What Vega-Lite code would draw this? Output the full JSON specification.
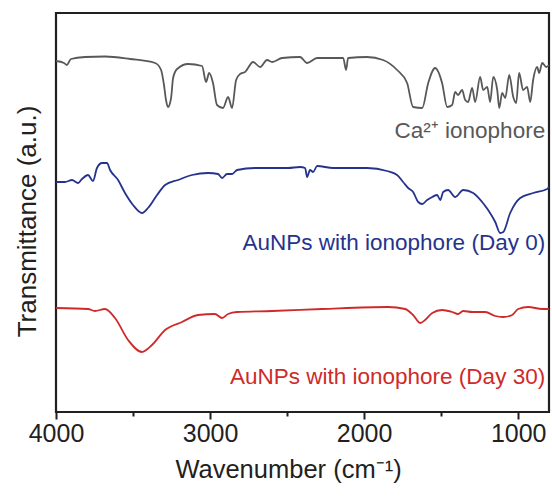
{
  "$schema": "https://vega.github.io/schema/vega-lite/v6.json",
  "autosize": "none",
  "width": 493,
  "height": 399,
  "padding": {"left": 56, "top": 13, "right": 3, "bottom": 88},
  "config": {
    "font": "Liberation Sans",
    "view": {"stroke": "#231f20", "strokeWidth": 2.2}
  },
  "datasets": {
    "spectra": [
      {"s":"Ca","w":4000,"t":351},{"s":"Ca","w":3948,"t":349},{"s":"Ca","w":3929,"t":347},{"s":"Ca","w":3903,"t":353},{"s":"Ca","w":3812,"t":355},{"s":"Ca","w":3682,"t":355.5},{"s":"Ca","w":3519,"t":353},{"s":"Ca","w":3357,"t":349},{"s":"Ca","w":3318,"t":342},{"s":"Ca","w":3299,"t":327},{"s":"Ca","w":3286,"t":312},{"s":"Ca","w":3273,"t":305},{"s":"Ca","w":3253,"t":314},{"s":"Ca","w":3240,"t":334},{"s":"Ca","w":3214,"t":343},{"s":"Ca","w":3143,"t":348},{"s":"Ca","w":3052,"t":346},{"s":"Ca","w":3026,"t":330},{"s":"Ca","w":3006,"t":339},{"s":"Ca","w":2981,"t":329},{"s":"Ca","w":2955,"t":307},{"s":"Ca","w":2916,"t":304},{"s":"Ca","w":2883,"t":315},{"s":"Ca","w":2857,"t":304},{"s":"Ca","w":2831,"t":332},{"s":"Ca","w":2805,"t":338},{"s":"Ca","w":2773,"t":340},{"s":"Ca","w":2721,"t":350},{"s":"Ca","w":2675,"t":345},{"s":"Ca","w":2630,"t":352},{"s":"Ca","w":2597,"t":350},{"s":"Ca","w":2532,"t":354},{"s":"Ca","w":2416,"t":355},{"s":"Ca","w":2370,"t":349},{"s":"Ca","w":2305,"t":354},{"s":"Ca","w":2221,"t":354},{"s":"Ca","w":2136,"t":354},{"s":"Ca","w":2117,"t":342},{"s":"Ca","w":2104,"t":354},{"s":"Ca","w":1981,"t":355},{"s":"Ca","w":1877,"t":352},{"s":"Ca","w":1786,"t":342},{"s":"Ca","w":1721,"t":329},{"s":"Ca","w":1682,"t":305},{"s":"Ca","w":1623,"t":304},{"s":"Ca","w":1584,"t":329},{"s":"Ca","w":1539,"t":344},{"s":"Ca","w":1494,"t":329},{"s":"Ca","w":1461,"t":305},{"s":"Ca","w":1429,"t":307},{"s":"Ca","w":1409,"t":320},{"s":"Ca","w":1390,"t":317},{"s":"Ca","w":1364,"t":322},{"s":"Ca","w":1344,"t":312},{"s":"Ca","w":1325,"t":310},{"s":"Ca","w":1299,"t":324},{"s":"Ca","w":1279,"t":310},{"s":"Ca","w":1247,"t":335},{"s":"Ca","w":1227,"t":322},{"s":"Ca","w":1201,"t":325},{"s":"Ca","w":1182,"t":310},{"s":"Ca","w":1162,"t":335},{"s":"Ca","w":1136,"t":322},{"s":"Ca","w":1123,"t":304},{"s":"Ca","w":1104,"t":319},{"s":"Ca","w":1084,"t":314},{"s":"Ca","w":1058,"t":337},{"s":"Ca","w":1032,"t":315},{"s":"Ca","w":1013,"t":309},{"s":"Ca","w":994,"t":339},{"s":"Ca","w":968,"t":322},{"s":"Ca","w":942,"t":325},{"s":"Ca","w":922,"t":310},{"s":"Ca","w":903,"t":332},{"s":"Ca","w":877,"t":345},{"s":"Ca","w":864,"t":339},{"s":"Ca","w":844,"t":349},{"s":"Ca","w":818,"t":345},{"s":"Ca","w":800,"t":347},

      {"s":"D0","w":4000,"t":230},{"s":"D0","w":3942,"t":230},{"s":"D0","w":3896,"t":232},{"s":"D0","w":3857,"t":229},{"s":"D0","w":3831,"t":233},{"s":"D0","w":3792,"t":237},{"s":"D0","w":3760,"t":231},{"s":"D0","w":3734,"t":244},{"s":"D0","w":3701,"t":249},{"s":"D0","w":3669,"t":249},{"s":"D0","w":3649,"t":242},{"s":"D0","w":3597,"t":232},{"s":"D0","w":3552,"t":219},{"s":"D0","w":3500,"t":207},{"s":"D0","w":3442,"t":199},{"s":"D0","w":3403,"t":204},{"s":"D0","w":3344,"t":217},{"s":"D0","w":3292,"t":227},{"s":"D0","w":3208,"t":232},{"s":"D0","w":3117,"t":237},{"s":"D0","w":3013,"t":239},{"s":"D0","w":2948,"t":238},{"s":"D0","w":2922,"t":234},{"s":"D0","w":2890,"t":238},{"s":"D0","w":2857,"t":238},{"s":"D0","w":2825,"t":242},{"s":"D0","w":2708,"t":244},{"s":"D0","w":2494,"t":244},{"s":"D0","w":2416,"t":245},{"s":"D0","w":2383,"t":244},{"s":"D0","w":2370,"t":235},{"s":"D0","w":2351,"t":242},{"s":"D0","w":2331,"t":240},{"s":"D0","w":2305,"t":246},{"s":"D0","w":2201,"t":244},{"s":"D0","w":1981,"t":244},{"s":"D0","w":1851,"t":241},{"s":"D0","w":1786,"t":237},{"s":"D0","w":1747,"t":230},{"s":"D0","w":1714,"t":224},{"s":"D0","w":1682,"t":220},{"s":"D0","w":1649,"t":210},{"s":"D0","w":1623,"t":208},{"s":"D0","w":1591,"t":212},{"s":"D0","w":1558,"t":215},{"s":"D0","w":1526,"t":217},{"s":"D0","w":1506,"t":212},{"s":"D0","w":1487,"t":220},{"s":"D0","w":1455,"t":222},{"s":"D0","w":1409,"t":215},{"s":"D0","w":1357,"t":222},{"s":"D0","w":1292,"t":219},{"s":"D0","w":1234,"t":210},{"s":"D0","w":1195,"t":202},{"s":"D0","w":1149,"t":190},{"s":"D0","w":1117,"t":179},{"s":"D0","w":1097,"t":180},{"s":"D0","w":1052,"t":199},{"s":"D0","w":987,"t":214},{"s":"D0","w":903,"t":219},{"s":"D0","w":812,"t":223},{"s":"D0","w":800,"t":225},

      {"s":"D30","w":4000,"t":104},{"s":"D30","w":3792,"t":103},{"s":"D30","w":3747,"t":101},{"s":"D30","w":3682,"t":103},{"s":"D30","w":3617,"t":94},{"s":"D30","w":3532,"t":72},{"s":"D30","w":3442,"t":60},{"s":"D30","w":3377,"t":67},{"s":"D30","w":3292,"t":82},{"s":"D30","w":3182,"t":90},{"s":"D30","w":3078,"t":97},{"s":"D30","w":2968,"t":98},{"s":"D30","w":2922,"t":94},{"s":"D30","w":2883,"t":98},{"s":"D30","w":2825,"t":100},{"s":"D30","w":2597,"t":101},{"s":"D30","w":2273,"t":103},{"s":"D30","w":1844,"t":105},{"s":"D30","w":1734,"t":103},{"s":"D30","w":1682,"t":97},{"s":"D30","w":1636,"t":89},{"s":"D30","w":1604,"t":92},{"s":"D30","w":1558,"t":99},{"s":"D30","w":1494,"t":102},{"s":"D30","w":1429,"t":100},{"s":"D30","w":1390,"t":98},{"s":"D30","w":1357,"t":101},{"s":"D30","w":1299,"t":100},{"s":"D30","w":1214,"t":100},{"s":"D30","w":1149,"t":96},{"s":"D30","w":1097,"t":95},{"s":"D30","w":1039,"t":97},{"s":"D30","w":1000,"t":103},{"s":"D30","w":935,"t":105},{"s":"D30","w":844,"t":103},{"s":"D30","w":800,"t":103}
    ],
    "labels": [
      {"s":"Ca","label":"Ca²⁺ ionophore","w":825,"t":281},
      {"s":"D0","label":"AuNPs with ionophore (Day 0)","w":825,"t":169},
      {"s":"D30","label":"AuNPs with ionophore (Day 30)","w":825,"t":35}
    ]
  },
  "layer": [
    {
      "data": {"name": "spectra"},
      "mark": {"type": "line", "strokeWidth": 1.8, "interpolate": "monotone"},
      "encoding": {
        "x": {
          "field": "w", "type": "quantitative",
          "scale": {"domain": [4000, 800], "nice": false, "zero": false},
          "axis": {
            "values": [4000, 3500, 3000, 2500, 2000, 1500, 1000],
            "labelExpr": "datum.value % 1000 === 0 ? datum.label : ''",
            "format": "d",
            "grid": false,
            "domain": false,
            "tickColor": "#231f20",
            "tickWidth": 2,
            "tickSize": {"condition": {"test": "datum.value % 1000 === 0", "value": 7}, "value": 4},
            "labelFontSize": 25,
            "labelColor": "#231f20",
            "labelPadding": 2,
            "labelFlush": false,
            "title": "Wavenumber (cm⁻¹)",
            "titleFontSize": 25.5,
            "titleFontWeight": "normal",
            "titleColor": "#231f20",
            "titlePadding": 11,
            "titleX": 232,
            "titleAlign": "center"
          }
        },
        "y": {
          "field": "t", "type": "quantitative",
          "scale": {"domain": [0, 399], "nice": false, "zero": false},
          "axis": {
            "labels": false, "ticks": false, "grid": false, "domain": false,
            "title": "Transmittance (a.u.)",
            "titleFontSize": 26,
            "titleFontWeight": "normal",
            "titleColor": "#231f20",
            "titlePadding": 16,
            "titleY": 208,
            "titleAlign": "center"
          }
        },
        "color": {
          "field": "s", "type": "nominal",
          "scale": {"domain": ["Ca", "D0", "D30"], "range": ["#585858", "#26338c", "#cf2a2a"]},
          "legend": null
        },
        "detail": {"field": "s"}
      }
    },
    {
      "data": {"name": "labels"},
      "mark": {"type": "text", "align": "right", "baseline": "middle", "fontSize": 22.5},
      "encoding": {
        "x": {"field": "w", "type": "quantitative"},
        "y": {"field": "t", "type": "quantitative"},
        "text": {"field": "label"},
        "color": {"field": "s", "type": "nominal", "legend": null}
      }
    }
  ]
}
